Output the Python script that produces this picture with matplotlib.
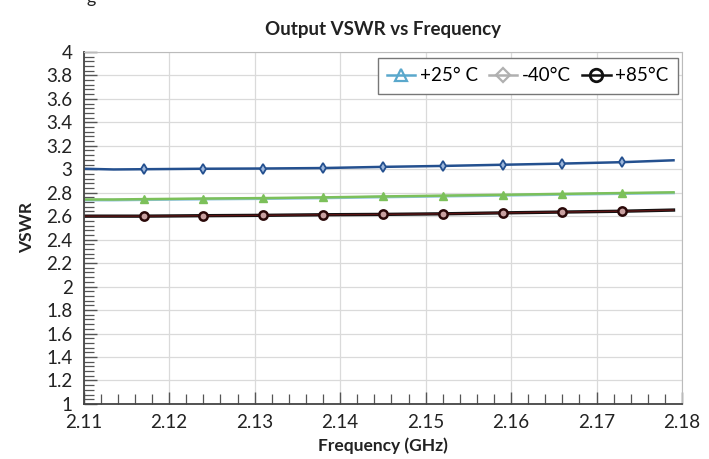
import matplotlib
matplotlib.use("Agg")
import matplotlib.pyplot as plt
from matplotlib.lines import Line2D
from matplotlib.ticker import MultipleLocator

plt.rcParams['font.family'] = ['Lato', 'DejaVu Sans']

# frequency points (GHz), markers sit on the inner points
freq = [2.110, 2.1135, 2.117, 2.124, 2.131, 2.138, 2.145, 2.152, 2.159, 2.166, 2.173, 2.179]
vswr_blue = [3.004, 2.998, 3.000, 3.004, 3.006, 3.010, 3.020, 3.028, 3.038, 3.048, 3.060, 3.076]
vswr_green = [2.742, 2.742, 2.745, 2.750, 2.754, 2.760, 2.768, 2.775, 2.782, 2.790, 2.797, 2.803]
vswr_teal = [2.737, 2.737, 2.740, 2.745, 2.749, 2.755, 2.763, 2.770, 2.777, 2.785, 2.792, 2.798]
vswr_red = [2.600, 2.600, 2.600, 2.604, 2.607, 2.612, 2.615, 2.620, 2.628, 2.635, 2.642, 2.652]
legend_labels = ['+25° C', '-40°C', '+85°C']

marks = list(range(2, 11))

fig = plt.figure(figsize=(7.09, 4.59), dpi=100)
ax = fig.add_axes([0.118, 0.12, 0.844, 0.767])

ax.plot(freq, vswr_blue, color='#24508f', lw=1.8, marker='d', markevery=marks,
        ms=5, mfc='#9fb8dc', mec='#24508f', mew=1.3)
ax.plot(freq, vswr_teal, color='#8fc3dc', lw=2.0)
ax.plot(freq, vswr_green, color='#7cc05a', lw=1.8, marker='^', markevery=marks,
        ms=6, mfc='#7cc05a', mec='#7cc05a')
ax.plot(freq, vswr_red, color='#111111', lw=2.4)
ax.plot(freq, vswr_red, color='#5a1414', lw=1.0, marker='o', markevery=marks,
        ms=6, mfc='#c9a0a0', mec='#2a0808', mew=1.8)

ax.set_xlim(2.11, 2.18)
ax.set_ylim(1, 4)
ax.xaxis.set_major_locator(MultipleLocator(0.01))
ax.xaxis.set_minor_locator(MultipleLocator(0.002))
ax.yaxis.set_major_locator(MultipleLocator(0.2))
ax.yaxis.set_minor_locator(MultipleLocator(0.04))
ax.xaxis.set_major_formatter(plt.FuncFormatter(lambda v, p: f"{v:.2f}"))
ax.yaxis.set_major_formatter(plt.FuncFormatter(lambda v, p: f"{v:g}"))

ax.grid(True, which='major', color='#dadada', lw=0.9)
ax.set_axisbelow(True)
ax.tick_params(which='both', direction='in', color='#555555', labelsize=13.5,
               labelcolor='#222222')
ax.tick_params(which='major', length=9, width=1.0)
ax.tick_params(which='minor', length=7, width=0.9)
ax.tick_params(axis='x', which='major', pad=7)
ax.tick_params(axis='y', which='major', pad=8)
for side in ['top', 'right']:
    ax.spines[side].set_color('#bbbbbb')
for side in ['left', 'bottom']:
    ax.spines[side].set_color('#444444')
    ax.spines[side].set_linewidth(1.3)

ax.set_xlabel('Frequency (GHz)', fontsize=12.5, fontweight='bold', color='#222222', labelpad=5)
ax.set_ylabel('VSWR', fontsize=12.5, fontweight='bold', color='#222222', labelpad=8)
ax.set_title('Output VSWR vs Frequency', fontsize=13.5, fontweight='bold', color='#222222', pad=12)

handles = [
    Line2D([], [], color='#5aa8cc', marker='^', mfc='none', mec='#5aa8cc', ms=9, mew=1.6, lw=1.8),
    Line2D([], [], color='#b0b0b0', marker='D', mfc='none', mec='#b0b0b0', ms=7.5, mew=1.6, lw=1.8),
    Line2D([], [], color='#111111', marker='o', mfc='none', mec='#111111', ms=9, mew=2.0, lw=1.8),
]
leg = ax.legend(handles, legend_labels, loc='upper right', ncol=3, fontsize=13.5,
                frameon=True, fancybox=False, edgecolor='#777777', framealpha=1,
                handlelength=1.5, handletextpad=0.25, columnspacing=0.6,
                borderpad=0.5, borderaxespad=0, bbox_to_anchor=(0.993, 0.983))
leg.get_frame().set_linewidth(1.0)

fig.text(0.122, 1.005, 'g', fontsize=13, color='#222222', va='center')

fig.savefig('out.png', dpi=100)
